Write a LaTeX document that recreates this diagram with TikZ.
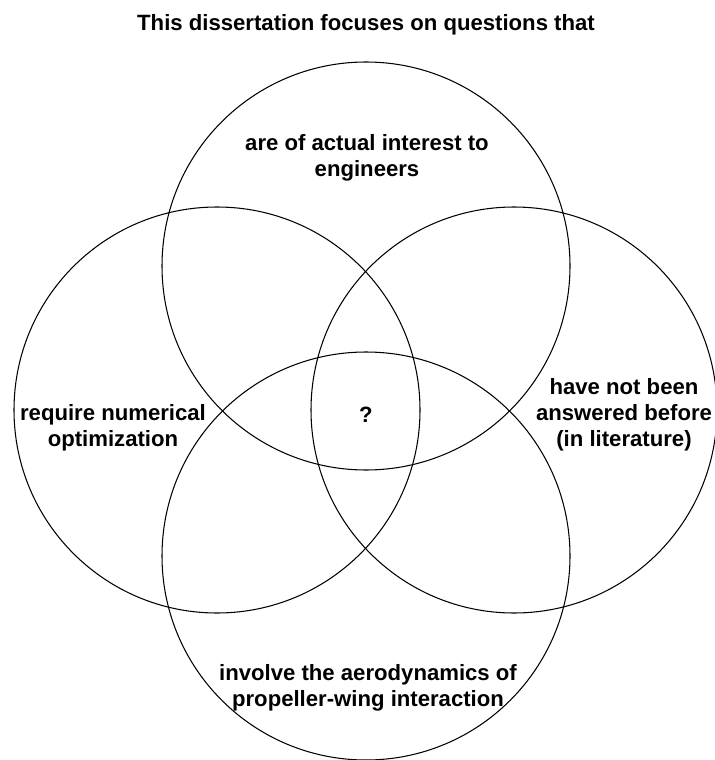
\documentclass[tikz,border=0pt]{standalone}
\usepackage{fontspec}
\setmainfont{Liberation Sans}
\tikzset{
  lbl/.style={font=\bfseries\fontsize{12.6}{14.9}\selectfont, align=center, inner sep=0pt},
  venn/.style={draw=black, line width=0.6pt}
}
\begin{document}
\begin{tikzpicture}[x=0.02cm, y=-0.02cm]
\useasboundingbox (0,0) rectangle (714,760);

% four overlapping sets
\draw [venn] (366,266) circle (204);
\draw [venn] (217,410) circle (203);
\draw [venn] (514,410) circle (203);
\draw [venn] (366,556) circle (204);

\node [lbl] (title) at (366,25) {This dissertation focuses on questions that};
\node [lbl] (interest) at (367,158) {are of actual interest to\\engineers};
\node [lbl] (optim) at (113,428) {require numerical\\optimization};
\node [lbl] (novel) at (624,415) {have not been\\answered before\\(in literature)};
\node [lbl] (aero) at (368,688) {involve the aerodynamics of\\propeller-wing interaction};
% ,the common part
\node [lbl] (center) at (366,415) {?};

\end{tikzpicture}
\end{document}
